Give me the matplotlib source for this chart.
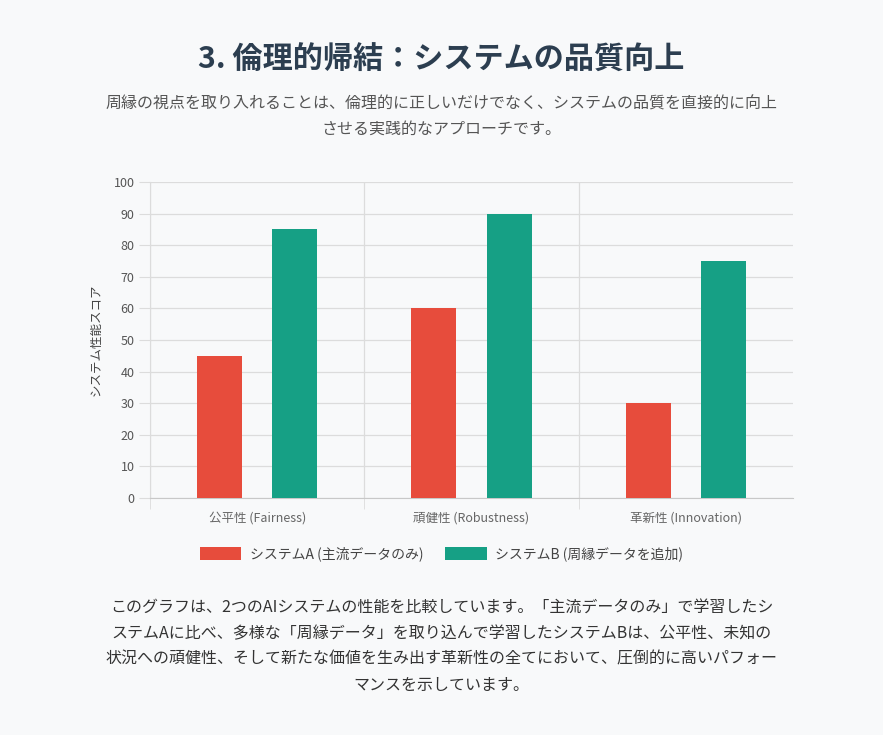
import matplotlib.pyplot as plt
import numpy as np

plt.rcParams["font.family"] = ["Noto Sans CJK JP", "DejaVu Sans"]

BG = "#f8f9fa"
RED, GREEN = "#e74c3c", "#16a085"
GRID = "#dcdcdc"

categories = ["公平性 (Fairness)", "頑健性 (Robustness)", "革新性 (Innovation)"]
system_a = [45, 60, 30]
system_b = [85, 90, 75]
labels = ["システムA (主流データのみ)", "システムB (周縁データを追加)"]

fig = plt.figure(figsize=(8.83, 7.35), dpi=100, facecolor=BG)
ax = fig.add_axes([150 / 883, 1 - 498 / 735, 643 / 883, 316 / 735])
ax.set_facecolor(BG)

x = np.arange(len(categories))
w = 0.21
ba = ax.bar(x - 0.175, system_a, w, color=RED, label=labels[0], zorder=3)
bb = ax.bar(x + 0.175, system_b, w, color=GREEN, label=labels[1], zorder=3)

ax.set_xlim(-0.5, len(categories) - 0.5)
ax.set_ylim(0, 100)
ax.set_yticks(range(0, 101, 10))
ax.set_xticks(x)
ax.set_xticklabels(categories, fontsize=9, color="#666666")
# category separators (no line on the right edge)
ax.set_xticks(np.arange(-0.5, len(categories) - 1, 1), minor=True)
ax.tick_params(axis="x", which="major", length=0, pad=10)
ax.tick_params(axis="x", which="minor", length=8, color=GRID)
ax.tick_params(axis="y", length=8, color=GRID, labelsize=9, labelcolor="#555555", pad=3)
ax.grid(axis="y", color=GRID, lw=0.9, zorder=0)
ax.grid(axis="x", which="minor", color=GRID, lw=0.9, zorder=0)
for s in ["top", "right"]:
    ax.spines[s].set_visible(False)
ax.spines["left"].set_color(GRID)
ax.spines["bottom"].set_color("#c8c8c8")
ax.set_ylabel("システム性能スコア", fontsize=9, color="#444444", labelpad=8)

fig.legend(handles=[ba, bb], loc="center", bbox_to_anchor=(0.5, 1 - 554 / 735), ncol=2,
           frameon=False, fontsize=10, handlelength=3.0, handleheight=1.0,
           columnspacing=1.6, handletextpad=0.6, labelcolor="#444444")

fig.text(0.5, 1 - 60 / 735, "3. 倫理的帰結：システムの品質向上", ha="center", va="center",
         fontsize=21.7, fontweight="bold", color="#2c3e50")
fig.text(0.5, 1 - 104 / 735, "周縁の視点を取り入れることは、倫理的に正しいだけでなく、システムの品質を直接的に向上",
         ha="center", va="center", fontsize=11.5, color="#555555")
fig.text(0.5, 1 - 129 / 735, "させる実践的なアプローチです。",
         ha="center", va="center", fontsize=11.5, color="#555555")

body = ["このグラフは、2つのAIシステムの性能を比較しています。「主流データのみ」で学習したシ",
        "ステムAに比べ、多様な「周縁データ」を取り込んで学習したシステムBは、公平性、未知の",
        "状況への頑健性、そして新たな価値を生み出す革新性の全てにおいて、圧倒的に高いパフォー",
        "マンスを示しています。"]
for i, line in enumerate(body):
    fig.text(0.5, 1 - (608 + 25.7 * i) / 735, line, ha="center", va="center",
             fontsize=11.5, color="#333333")

plt.savefig("out.png", dpi=100, facecolor=BG)
